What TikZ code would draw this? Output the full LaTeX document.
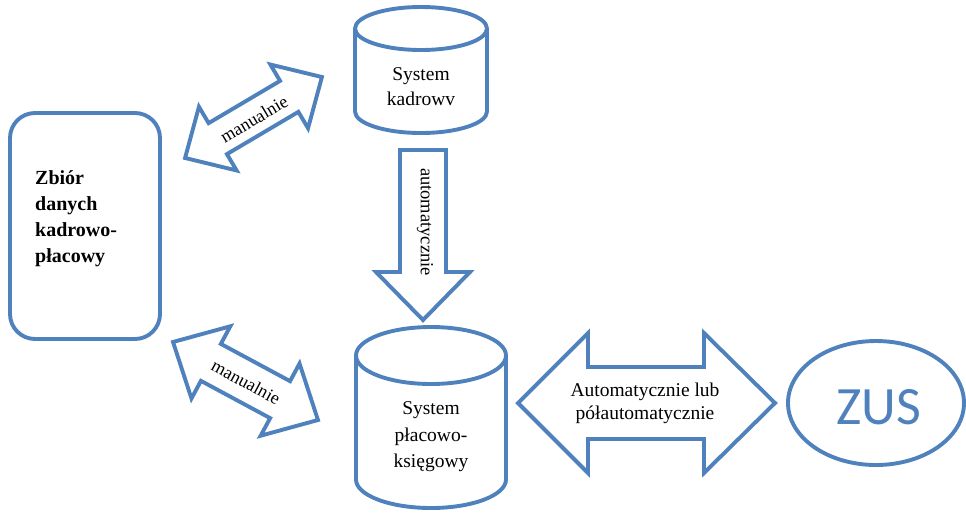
\documentclass[tikz,border=0pt]{standalone}
\usepackage{fontspec}
\setmainfont{Liberation Serif}
\newfontfamily\zusfont{Carlito}
\definecolor{ob}{HTML}{4F81BD}
\newcommand{\blockdbl}[7]{%
  \begin{scope}[shift={(#1,#2)}, rotate=#3]
    \draw[blk] (-#4,0) -- ({-#4+#5},#6) -- ({-#4+#5},#7) -- ({#4-#5},#7) -- ({#4-#5},#6) -- (#4,0)
      -- ({#4-#5},-#6) -- ({#4-#5},-#7) -- ({-#4+#5},-#7) -- ({-#4+#5},-#6) -- cycle;
  \end{scope}}
\begin{document}
\begin{tikzpicture}[x=1pt,y=-1pt,
  blk/.style={draw=ob, line width=3.9pt, line join=miter},
  lbl/.style={inner sep=0pt, align=center, font=\fontsize{19.5}{24}\selectfont}]
\useasboundingbox (0,0) rectangle (966,512);

% left rounded rectangle
\draw[blk, rounded corners=25pt] (10,113) rectangle (160,339);
\node[anchor=west, align=left, inner sep=0pt, font=\bfseries\fontsize{20}{26}\selectfont] (zb) at (35,219) {Zbiór\\danych\\kadrowo-\\płacowy};

% top cylinder
\draw[blk] (355,28.5) -- (355,111.5) arc[start angle=180, end angle=0, x radius=66, y radius=21.5] -- (487,28.5);
\draw[blk] (421,28.5) ellipse[x radius=66, y radius=21.5];
\node[lbl, font=\fontsize{19.5}{25}\selectfont] (sk) at (421,87) {System\\kadrowv};

% bottom cylinder
\draw[blk] (356,355.5) -- (356,479.5) arc[start angle=180, end angle=0, x radius=75, y radius=28.5] -- (506,355.5);
\draw[blk] (431,355.5) ellipse[x radius=75, y radius=28.5];
\node[lbl, font=\fontsize{19.5}{26.5}\selectfont] (sp) at (431,437) {System\\płacowo-\\księgowy};

% vertical arrow
\draw[blk] (400,150) -- (446,150) -- (446,272) -- (470,272) -- (423,320) -- (376,272) -- (400,272) -- cycle;
\node[lbl, font=\fontsize{18.5}{20}\selectfont, rotate=-90] (au) at (425,222) {automatycznie};

% diagonal double arrows
\blockdbl{253.5}{117.5}{30.6}{79.5}{38}{37}{18}
\node[lbl, font=\fontsize{18}{20}\selectfont, rotate=30.6] (m1) at (254,119) {manualnie};
\blockdbl{245.5}{381}{-28.3}{82.3}{43}{41}{21}
\node[lbl, font=\fontsize{18}{20}\selectfont, rotate=-28.3] (m2) at (246,382) {manualnie};

% horizontal double arrow
\draw[blk] (518,403) -- (588,333) -- (588,367) -- (704,367) -- (704,333) -- (775,403)
  -- (704,473) -- (704,439) -- (588,439) -- (588,473) -- cycle;
\node[lbl, font=\fontsize{19.5}{23}\selectfont] (ap) at (645,403) {Automatycznie lub\\półautomatycznie};

% ZUS
\draw[blk] (876,403) ellipse[x radius=88, y radius=62];
\node[inner sep=0pt, text=ob, font=\zusfont\fontsize{54}{54}\selectfont] (zus) at (879,407) {ZUS};
\end{tikzpicture}
\end{document}
